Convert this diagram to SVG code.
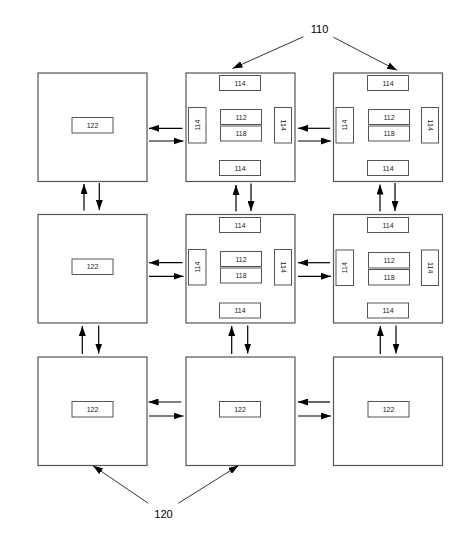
<svg xmlns="http://www.w3.org/2000/svg" width="467" height="559" viewBox="0 0 467 559">
<defs>
<marker id="ah" markerUnits="userSpaceOnUse" markerWidth="10" markerHeight="7" refX="10" refY="3.5" orient="auto">
<path d="M0,0 L10,3.5 L0,7 z" fill="#000"/>
</marker>
<style>
.box{fill:#fff;stroke:#555;stroke-width:1.2}
.in{fill:#fff;stroke:#555;stroke-width:1}
.t{font-family:"Liberation Sans",Arial,sans-serif;font-size:7px;fill:#222;text-anchor:middle;dominant-baseline:central}
.lbl{font-family:"Liberation Sans",Arial,sans-serif;font-size:11px;fill:#000;text-anchor:middle}
.c{stroke:#000;stroke-width:1.2;fill:none;marker-end:url(#ah)}
.l{stroke:#000;stroke-width:0.8;fill:none;marker-end:url(#ah)}
</style>
</defs>
<rect width="467" height="559" fill="#fff"/>

<g id="mem00"><rect class="box" x="38" y="73" width="109" height="108.5"/><rect class="in" x="72" y="117.5" width="41" height="15.5"/><text class="t" x="92.5" y="125.2">122</text></g>
<g id="mem10"><rect class="box" x="38" y="214.5" width="109" height="108.5"/><rect class="in" x="72" y="259" width="41" height="15.5"/><text class="t" x="92.5" y="266.7">122</text></g>
<g id="mem20"><rect class="box" x="38" y="357" width="109" height="108.5"/><rect class="in" x="72" y="401.5" width="41" height="15.5"/><text class="t" x="92.5" y="409.2">122</text></g>
<g id="mem21"><rect class="box" x="186" y="357" width="109" height="108.5"/><rect class="in" x="219.5" y="401.5" width="41" height="15.5"/><text class="t" x="240" y="409.2">122</text></g>
<g id="mem22"><rect class="box" x="333.5" y="357" width="109" height="108.5"/><rect class="in" x="368" y="401.5" width="41" height="15.5"/><text class="t" x="388.5" y="409.2">122</text></g>

<g id="proc01">
<rect class="box" x="186" y="73" width="109" height="108.5"/>
<rect class="in" x="219.5" y="75.5" width="41" height="15"/><text class="t" x="240" y="83">114</text>
<rect class="in" x="220.5" y="109.5" width="41" height="15"/><text class="t" x="241" y="117">112</text>
<rect class="in" x="220.5" y="126" width="41" height="15"/><text class="t" x="241" y="133.5">118</text>
<rect class="in" x="188.5" y="107.5" width="17.5" height="35.5"/><text class="t" transform="translate(197.2,125.2) rotate(-90)">114</text>
<rect class="in" x="274.5" y="107.5" width="17" height="35.5"/><text class="t" transform="translate(283,125.2) rotate(90)">114</text>
<rect class="in" x="219.5" y="160.5" width="41" height="15"/><text class="t" x="240" y="168">114</text>
</g>
<g id="proc02">
<rect class="box" x="333.5" y="73" width="109" height="108.5"/>
<rect class="in" x="367.5" y="75.5" width="41" height="15"/><text class="t" x="388" y="83">114</text>
<rect class="in" x="368.5" y="109.5" width="41" height="15"/><text class="t" x="389" y="117">112</text>
<rect class="in" x="368.5" y="126" width="41" height="15"/><text class="t" x="389" y="133.5">118</text>
<rect class="in" x="336" y="107.5" width="17.5" height="35.5"/><text class="t" transform="translate(344.7,125.2) rotate(-90)">114</text>
<rect class="in" x="421.5" y="107.5" width="17" height="35.5"/><text class="t" transform="translate(430,125.2) rotate(90)">114</text>
<rect class="in" x="367.5" y="160.5" width="41" height="15"/><text class="t" x="388" y="168">114</text>
</g>
<g id="proc11">
<rect class="box" x="186" y="214.5" width="109" height="108.5"/>
<rect class="in" x="219.5" y="217.5" width="41" height="15"/><text class="t" x="240" y="225">114</text>
<rect class="in" x="220.5" y="251.5" width="41" height="15"/><text class="t" x="241" y="259">112</text>
<rect class="in" x="220.5" y="268" width="41" height="15"/><text class="t" x="241" y="275.5">118</text>
<rect class="in" x="188.5" y="249.5" width="17.5" height="35.5"/><text class="t" transform="translate(197.2,267.2) rotate(-90)">114</text>
<rect class="in" x="274.5" y="249.5" width="17" height="35.5"/><text class="t" transform="translate(283,267.2) rotate(90)">114</text>
<rect class="in" x="219.5" y="303" width="41" height="15"/><text class="t" x="240" y="310.5">114</text>
</g>
<g id="proc12">
<rect class="box" x="333.5" y="214.5" width="109" height="108.5"/>
<rect class="in" x="367.5" y="217.5" width="41" height="15"/><text class="t" x="388" y="225">114</text>
<rect class="in" x="368.5" y="252.5" width="41" height="15.5"/><text class="t" x="389" y="260.2">112</text>
<rect class="in" x="368.5" y="269.5" width="41" height="15.5"/><text class="t" x="389" y="277.2">118</text>
<rect class="in" x="336" y="250" width="17.5" height="35.5"/><text class="t" transform="translate(344.7,267.7) rotate(-90)">114</text>
<rect class="in" x="421.5" y="250" width="17" height="35.5"/><text class="t" transform="translate(430,267.7) rotate(90)">114</text>
<rect class="in" x="367.5" y="303" width="41" height="15"/><text class="t" x="388" y="310.5">114</text>
</g>

<g id="labels">
<text class="lbl" x="319.5" y="33">110</text>
<text class="lbl" x="163.5" y="518">120</text>
</g>

<g id="connectors">
<line class="c" x1="182.5" y1="128.3" x2="149" y2="128.3"/>
<line class="c" x1="149" y1="141" x2="183.5" y2="141"/>
<line class="c" x1="330" y1="128.3" x2="298" y2="128.3"/>
<line class="c" x1="298" y1="141" x2="331" y2="141"/>
<line class="c" x1="182.5" y1="262.7" x2="149" y2="262.7"/>
<line class="c" x1="149" y1="276.3" x2="183.5" y2="276.3"/>
<line class="c" x1="330" y1="262.7" x2="298" y2="262.7"/>
<line class="c" x1="298" y1="276.3" x2="331" y2="276.3"/>
<line class="c" x1="181.5" y1="402" x2="148.5" y2="402"/>
<line class="c" x1="149" y1="416" x2="183.5" y2="416"/>
<line class="c" x1="330" y1="402" x2="298" y2="402"/>
<line class="c" x1="298" y1="416" x2="331" y2="416"/>

<line class="c" x1="84" y1="210.5" x2="84" y2="184"/>
<line class="c" x1="99.3" y1="183" x2="99.3" y2="210"/>
<line class="c" x1="236" y1="211.5" x2="236" y2="185"/>
<line class="c" x1="251" y1="183.5" x2="251" y2="211"/>
<line class="c" x1="380" y1="211.5" x2="380" y2="184.5"/>
<line class="c" x1="395" y1="183" x2="395" y2="211"/>
<line class="c" x1="82.3" y1="354" x2="82.3" y2="326"/>
<line class="c" x1="98.7" y1="325.5" x2="98.7" y2="353.5"/>
<line class="c" x1="231.7" y1="354" x2="231.7" y2="326"/>
<line class="c" x1="247.7" y1="325.5" x2="247.7" y2="353.5"/>
<line class="c" x1="380.3" y1="354" x2="380.3" y2="326"/>
<line class="c" x1="396" y1="325.5" x2="396" y2="353.5"/>

<line class="l" x1="303.5" y1="36.7" x2="232.5" y2="68.5"/>
<line class="l" x1="333.5" y1="37.3" x2="397" y2="70.3"/>
<line class="l" x1="148.3" y1="503.3" x2="93" y2="465.7"/>
<line class="l" x1="178.3" y1="503.3" x2="238.5" y2="465.5"/>
</g>
</svg>
